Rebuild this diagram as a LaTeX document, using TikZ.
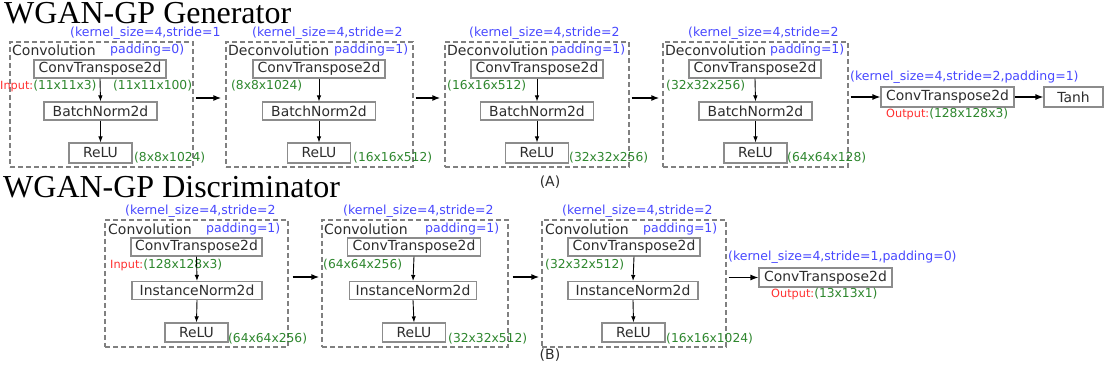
\documentclass[tikz,border=0pt]{standalone}
\usepackage{fontspec}
\setmainfont{DejaVu Sans}
\newfontfamily\titlefont{Liberation Serif}
\usetikzlibrary{arrows.meta}
\definecolor{kblue}{RGB}{72,72,255}
\definecolor{kgreen}{RGB}{46,135,46}
\definecolor{kred}{RGB}{255,48,48}
\definecolor{ktext}{RGB}{45,45,45}
\definecolor{kframe}{RGB}{128,128,128}
\definecolor{kbox}{RGB}{140,140,140}
\tikzset{
  frame/.style={draw=kframe,line width=1.3pt,dash pattern=on 5pt off 3pt,inner sep=0pt},
  layer/.style={draw=kbox,line width=1.1pt,fill=white,inner sep=0pt,text=ktext,font=\fontsize{13.9}{15}\selectfont},
  lbl/.style={anchor=west,inner sep=0pt,text=ktext,font=\fontsize{14}{16}\selectfont},
  prm/.style={anchor=west,inner sep=0pt,text=kblue,font=\fontsize{12.5}{14}\selectfont},
  dim/.style={anchor=west,inner sep=0pt,text=kgreen,font=\fontsize{12.3}{14}\selectfont},
  ttl/.style={anchor=west,inner sep=0pt,text=black,font=\titlefont\fontsize{32}{34}\selectfont},
  arr/.style={-{Latex[length=8pt,width=6pt]},line width=1.3pt,black},
  iarr/.style={-{Latex[length=6pt,width=4.5pt]},line width=0.9pt,black},
}
\newcommand{\inlbl}[1]{{\color{kred}\fontsize{11.3}{13}\selectfont #1}}
\begin{document}
\begin{tikzpicture}[x=1pt,y=-1pt]
\useasboundingbox[fill=white] (0,0) rectangle (1104,374);
% ---------- titles ----------
\node[ttl] (tg) at (4,13.5) {WGAN-GP Generator};
\node[ttl] (td) at (3,187) {WGAN-GP Discriminator};
\node[text=ktext,inner sep=0pt,font=\fontsize{14}{16}\selectfont] (capA) at (550,182) {(A)};
\node[text=ktext,inner sep=0pt,font=\fontsize{14}{16}\selectfont] (capB) at (550,355) {(B)};
% ---------- generator frames ----------
\node[frame,minimum width=183pt,minimum height=125pt] (g1) at (101.5,104.5) {};
\node[frame,minimum width=187pt,minimum height=125pt] (g2) at (319.5,104.5) {};
\node[frame,minimum width=184pt,minimum height=125pt] (g3) at (537,104.5) {};
\node[frame,minimum width=185pt,minimum height=125pt] (g4) at (755.5,104.5) {};
% G1
\node[prm] (g1k) at (70,33.5) {(kernel\_size=4,stride=1};
\node[lbl] (g1l) at (12,50) {Convolution};
\node[prm] (g1p) at (110,50) {padding=0)};
\node[layer,minimum width=132pt,minimum height=18pt] (g1c) at (100,69) {ConvTranspose2d};
\node[layer,minimum width=113pt,minimum height=18pt] (g1b) at (100.5,111) {BatchNorm2d};
\node[layer,minimum width=63pt,minimum height=20pt] (g1r) at (100.5,153) {ReLU};
\node[dim] (g1i) at (0,86) {\inlbl{Input:}(11x11x3)};
\node[dim] (g1o) at (113,86) {(11x11x100)};
\node[dim] (g1d) at (134,158) {(8x8x1024)};
\draw[iarr] (g1c.south) -- (g1b.north);
\draw[iarr] (g1b.south) -- (g1r.north);
% G2
\node[prm] (g2k) at (252,33.5) {(kernel\_size=4,stride=2};
\node[lbl] (g2l) at (228,50) {Deconvolution};
\node[prm] (g2p) at (334,50) {padding=1)};
\node[layer,minimum width=132pt,minimum height=18pt] (g2c) at (319,69) {ConvTranspose2d};
\node[layer,minimum width=113pt,minimum height=18pt] (g2b) at (319,111) {BatchNorm2d};
\node[layer,minimum width=63pt,minimum height=20pt] (g2r) at (319,153) {ReLU};
\node[dim] (g2i) at (231,86) {(8x8x1024)};
\node[dim] (g2d) at (353,158) {(16x16x512)};
\draw[iarr] (g2c.south) -- (g2b.north);
\draw[iarr] (g2b.south) -- (g2r.north);
% G3
\node[prm] (g3k) at (469,33.5) {(kernel\_size=4,stride=2};
\node[lbl] (g3l) at (447,50) {Deconvolution};
\node[prm] (g3p) at (551,50) {padding=1)};
\node[layer,minimum width=132pt,minimum height=18pt] (g3c) at (537,69) {ConvTranspose2d};
\node[layer,minimum width=113pt,minimum height=18pt] (g3b) at (537,111) {BatchNorm2d};
\node[layer,minimum width=63pt,minimum height=20pt] (g3r) at (537,153) {ReLU};
\node[dim] (g3i) at (447,86) {(16x16x512)};
\node[dim] (g3d) at (569,158) {(32x32x256)};
\draw[iarr] (g3c.south) -- (g3b.north);
\draw[iarr] (g3b.south) -- (g3r.north);
% G4
\node[prm] (g4k) at (688,33.5) {(kernel\_size=4,stride=2};
\node[lbl] (g4l) at (665,50) {Deconvolution};
\node[prm] (g4p) at (770,50) {padding=1)};
\node[layer,minimum width=132pt,minimum height=18pt] (g4c) at (755,69) {ConvTranspose2d};
\node[layer,minimum width=113pt,minimum height=18pt] (g4b) at (755.5,111) {BatchNorm2d};
\node[layer,minimum width=63pt,minimum height=20pt] (g4r) at (755.5,153) {ReLU};
\node[dim] (g4i) at (666,86) {(32x32x256)};
\node[dim] (g4d) at (787,158) {(64x64x128)};
\draw[iarr] (g4c.south) -- (g4b.north);
\draw[iarr] (g4b.south) -- (g4r.north);
% G final
\node[prm] (g5k) at (850,77) {(kernel\_size=4,stride=2,padding=1)};
\node[layer,minimum width=133pt,minimum height=20pt] (g5c) at (947.5,97) {ConvTranspose2d};
\node[layer,minimum width=59pt,minimum height=20pt] (g5t) at (1073.5,97) {Tanh};
\node[dim] (g5o) at (886,114) {\inlbl{Output:}(128x128x3)};
% generator connectors
\draw[arr,shorten <=2pt,shorten >=4pt] (g1.east|-0,98) -- (g2.west|-0,98);
\draw[arr,shorten <=2pt,shorten >=4pt] (g2.east|-0,98) -- (g3.west|-0,98);
\draw[arr,shorten <=2pt,shorten >=3pt] (g3.east|-0,98) -- (g4.west|-0,98);
\draw[arr,shorten <=2pt] (g4.east|-g5c.west) -- (g5c.west);
\draw[arr] (g5c.east) -- (g5t.west);
% ---------- discriminator frames ----------
\node[frame,minimum width=183pt,minimum height=127pt] (d1) at (196.5,283.5) {};
\node[frame,minimum width=186pt,minimum height=127pt] (d2) at (415,283.5) {};
\node[frame,minimum width=184pt,minimum height=127pt] (d3) at (634,283.5) {};
% D1
\node[prm] (d1k) at (125,211) {(kernel\_size=4,stride=2};
\node[lbl] (d1l) at (108,229) {Convolution};
\node[prm] (d1p) at (206,229) {padding=1)};
\node[layer,minimum width=131pt,minimum height=18pt] (d1c) at (196.5,247) {ConvTranspose2d};
\node[layer,minimum width=130pt,minimum height=18pt] (d1n) at (197,290.5) {InstanceNorm2d};
\node[layer,minimum width=63pt,minimum height=19pt] (d1r) at (196.5,332.5) {ReLU};
\node[dim] (d1i) at (110,265) {\inlbl{Input:}(128x128x3)};
\node[dim] (d1d) at (228,339) {(64x64x256)};
\draw[iarr] (d1c.south) -- (d1n.north);
\draw[iarr] (d1n.south) -- (d1r.north);
% D2
\node[prm] (d2k) at (343,211) {(kernel\_size=4,stride=2};
\node[lbl] (d2l) at (324,229) {Convolution};
\node[prm] (d2p) at (425,229) {padding=1)};
\node[layer,minimum width=133pt,minimum height=18pt] (d2c) at (414,247) {ConvTranspose2d};
\node[layer,minimum width=127pt,minimum height=18pt] (d2n) at (413,290.5) {InstanceNorm2d};
\node[layer,minimum width=63pt,minimum height=19pt] (d2r) at (414,332.5) {ReLU};
\node[dim] (d2i) at (323,265) {(64x64x256)};
\node[dim] (d2d) at (448,339) {(32x32x512)};
\draw[iarr] (d2c.south) -- (d2n.north);
\draw[iarr] (d2n.south) -- (d2r.north);
% D3
\node[prm] (d3k) at (562,211) {(kernel\_size=4,stride=2};
\node[lbl] (d3l) at (545,229) {Convolution};
\node[prm] (d3p) at (643,229) {padding=1)};
\node[layer,minimum width=132pt,minimum height=18pt] (d3c) at (634,247) {ConvTranspose2d};
\node[layer,minimum width=130pt,minimum height=18pt] (d3n) at (633,290.5) {InstanceNorm2d};
\node[layer,minimum width=63pt,minimum height=19pt] (d3r) at (633.5,332.5) {ReLU};
\node[dim] (d3i) at (545,265) {(32x32x512)};
\node[dim] (d3d) at (666,339) {(16x16x1024)};
\draw[iarr] (d3c.south) -- (d3n.north);
\draw[iarr] (d3n.south) -- (d3r.north);
% D final
\node[prm] (d4k) at (728,257) {(kernel\_size=4,stride=1,padding=0)};
\node[layer,minimum width=133pt,minimum height=19pt] (d4c) at (825.5,277.5) {ConvTranspose2d};
\node[dim] (d4o) at (771,294) {\inlbl{Output:}(13x13x1)};
% discriminator connectors
\draw[arr,shorten <=4pt,shorten >=2pt] (d1.east|-0,277) -- (d2.west|-0,277);
\draw[arr,shorten <=4pt,shorten >=2pt] (d2.east|-0,277) -- (d3.west|-0,277);
\draw[arr,shorten <=2pt] (d3.east|-d4c.west) -- (d4c.west);
\end{tikzpicture}
\end{document}
